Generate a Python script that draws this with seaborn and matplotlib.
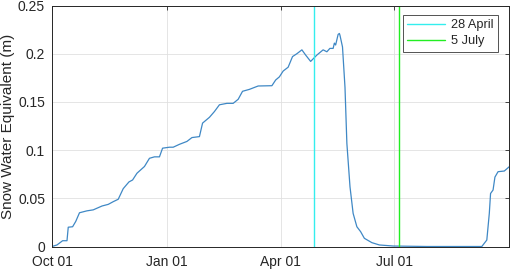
import matplotlib
matplotlib.use("Agg")
import matplotlib.pyplot as plt
import matplotlib.dates as mdates
from matplotlib.ticker import FuncFormatter
import seaborn as sns
import pandas as pd

# ---- data ----
start_date = "2019-10-01"
day_offsets = [0, 4, 8.5, 12, 13, 16.5, 19, 22, 28, 33, 40, 45, 49, 53, 57, 61.6, 64.5, 68, 74,
               78, 82, 86, 88.5, 94, 97, 102, 108, 112, 118, 120.5, 126, 130, 134, 140, 145,
               149, 152.5, 158, 165, 176, 179, 182, 185, 189, 192.5, 196, 200, 203, 207, 212,
               217, 220, 222.4, 225, 226, 227, 229, 230, 230.5, 232.5, 234.5, 236, 238.5, 241,
               244, 247, 250, 256, 262, 273, 300, 344, 348, 350, 351, 353, 354.5, 357, 362, 366]
swe = [0.0, 0.0016, 0.006, 0.006, 0.020, 0.0205, 0.026, 0.035, 0.037, 0.038, 0.042, 0.0437,
       0.0465, 0.049, 0.060, 0.067, 0.069, 0.076, 0.083, 0.0915, 0.093, 0.093, 0.102, 0.103,
       0.103, 0.106, 0.109, 0.113, 0.114, 0.128, 0.134, 0.140, 0.147, 0.1485, 0.1485, 0.1527,
       0.161, 0.163, 0.1665, 0.1668, 0.1727, 0.176, 0.182, 0.186, 0.197, 0.200, 0.204, 0.1986,
       0.192, 0.1986, 0.204, 0.202, 0.2055, 0.2055, 0.211, 0.209, 0.220, 0.221, 0.219, 0.207,
       0.165, 0.107, 0.062, 0.0344, 0.0205, 0.0154, 0.0085, 0.004, 0.0016, 0.0005, 0.0,
       0.0, 0.0067, 0.0344, 0.055, 0.0586, 0.072, 0.0776, 0.0783, 0.0828]
event_dates = ["2020-04-28", "2020-07-05"]
event_labels = ["28 April", "5 July"]
event_colors = ["#33eeee", "#22ee22"]
tick_dates = ["2019-10-01", "2020-01-01", "2020-04-01", "2020-07-01"]
y_ticks = [0, 0.05, 0.1, 0.15, 0.2, 0.25]

dates = pd.to_datetime(start_date) + pd.to_timedelta(day_offsets, unit="D")
df = pd.DataFrame({"date": dates, "swe": swe})

sns.set_style("white")
plt.rcParams["font.family"] = ["Liberation Sans", "DejaVu Sans"]

fig = plt.figure(figsize=(5.12, 2.70), dpi=100)
ax = fig.add_axes([52/512, 1-246.5/270, (509.3-52)/512, (246.5-5.5)/270])

sns.lineplot(data=df, x="date", y="swe", ax=ax, color="#3f88c5", linewidth=0.9)

handles = []
for d, lab, c in zip(event_dates, event_labels, event_colors):
    h = ax.axvline(pd.to_datetime(d), color=c, linewidth=1.0, label=lab)
    handles.append(h)

ax.set_xlim(pd.to_datetime(start_date), pd.to_datetime(start_date) + pd.Timedelta(days=366))
ax.set_ylim(0, 0.25)
ax.set_xticks(pd.to_datetime(tick_dates))
ax.xaxis.set_major_formatter(mdates.DateFormatter("%b %d"))
ax.set_yticks(y_ticks)
ax.yaxis.set_major_formatter(FuncFormatter(lambda v, p: f"{v:g}"))

ax.grid(True, color="#e0e0e0", linewidth=0.6)
ax.set_axisbelow(True)
for s in ax.spines.values():
    s.set_color("#262626")
    s.set_linewidth(0.7)
    s.set_visible(True)
ax.tick_params(direction="in", length=3, width=0.6, colors="#262626",
               top=True, right=True, labelsize=10)
ax.tick_params(axis="x", pad=6)
ax.tick_params(axis="y", pad=5)
ax.set_xlabel("")
ax.set_ylabel("Snow Water Equivalent (m)", fontsize=11, color="#262626", labelpad=2)

leg = ax.legend(handles=handles, loc="upper right", bbox_to_anchor=(0.975, 0.961),
                fontsize=9.2, frameon=True, fancybox=False, edgecolor="#262626",
                handlelength=2.9, borderaxespad=0.0, labelspacing=0.3, borderpad=0.35,
                handletextpad=0.5)
leg.get_frame().set_linewidth(0.7)

fig.savefig("out.png", dpi=100)
